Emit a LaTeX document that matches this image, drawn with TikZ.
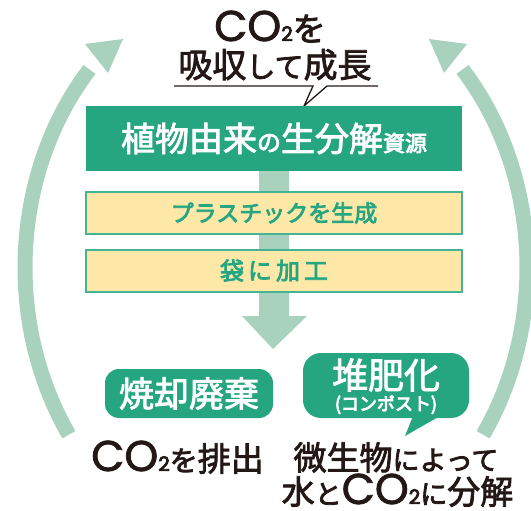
\documentclass[tikz,border=0pt]{standalone}
\usepackage{fontspec}
\setmainfont{Noto Sans CJK JP}
\newfontfamily\geo{Poppins}
\newcommand\fsz[1]{\fontsize{#1}{#1}\selectfont}
\newcommand\heavy{\special{pdf:code 2 Tr 0.8 w}}
\newcommand\nodepth[1]{\raisebox{0pt}[\height][0pt]{#1}}
\newcommand\cotwo{{\geo\fsz{43}\raisebox{0pt}[30pt][0pt]{CO\fsz{20}2}}}
\definecolor{leaf}{HTML}{25A681}
\definecolor{mint}{HTML}{A8D2BE}
\definecolor{cream}{HTML}{FDE8A7}
\definecolor{ink}{HTML}{231815}

\begin{document}
\begin{tikzpicture}[x=1pt, y=-1pt, every node/.style={font=\heavy},
    greenbox/.style={fill=leaf, text=white, inner sep=0pt},
    yellowbox/.style={fill=cream, draw=leaf!85!white, line width=2pt, text=leaf,
        minimum width=376pt, minimum height=42pt, inner sep=0pt},
    cycleband/.style={mint, line width=15pt},
    caption/.style={text=ink, anchor=base, inner sep=0pt}]
    \useasboundingbox (0,0) rectangle (531,511);

    \draw [cycleband] plot [domain=145.6:222, samples=50] ({276+251*cos(\x)}, {267.5+296*sin(\x)});
    \fill [mint] (123,39) -- (85,44) -- (108,73) -- cycle;
    \draw [cycleband] plot [domain=34.4:-42, samples=50] ({276+251*cos(\x)}, {267.5+296*sin(\x)});
    \fill [mint] (429,39) -- (467,44) -- (444,73) -- cycle;

    \fill [mint] (259,171) -- (289,171) -- (289,316) -- (307,316) -- (273,349) -- (242,316) -- (259,316) -- cycle;

    \node [caption] (absorb1) at (270,41) {\nodepth{\cotwo\fsz{33}を}};
    \node [caption] (absorb2) at (275,77.5) {\fsz{34}吸収{\fsz{29}して}成長};
    \draw [ink, line width=1.3pt] (174,86) -- (313,86) -- (304,106) -- (327,86) -- (378,86);

    \node [greenbox, minimum width=376pt, minimum height=65pt] (resource) at (274,138.5) {\fsz{34}植物由来{\fsz{24}の}生分解{\fsz{22}資源}};
    \node [yellowbox] (plastic) at (274,213) {\fsz{23}プラスチックを生成};
    \node [yellowbox] (bag) at (274,270.5) {\fsz{24}袋\hspace{4pt}に\hspace{4pt}加\hspace{4pt}工};

    \node [greenbox, rounded corners=14pt, minimum width=168pt, minimum height=49pt] (burn) at (189,393.5) {\fsz{35}焼却廃棄};
    \node [greenbox, rounded corners=18pt, minimum width=166pt, minimum height=65pt] (compost) at (386,385.5) {};
    \fill [leaf] (413,416) -- (405,436) -- (440,416) -- cycle;
    \node [text=white] (compostname) at (386,375) {\fsz{36}堆肥化};
    \node [text=white] (compostnote) at (386,404.5) {\fsz{18}(コンポスト)};

    \node [caption] (emit) at (177.5,471) {\cotwo\fsz{28}を\fsz{33}排出};
    \node [caption] (microbe1) at (396,470) {\fsz{33}微生物\fsz{27}によって};
    \node [caption] (microbe2) at (397.5,504) {\nodepth{\fsz{33}水\fsz{27}と\cotwo\fsz{27}に\fsz{33}分解}};
\end{tikzpicture}
\end{document}
